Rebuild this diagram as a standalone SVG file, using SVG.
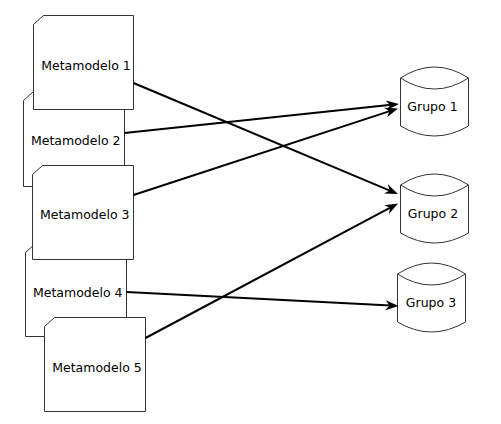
<svg xmlns="http://www.w3.org/2000/svg" width="501" height="424" viewBox="0 0 501 424">
<style>
.box{fill:#fff;stroke:#333;stroke-width:1}
.cyl{fill:#fff;stroke:#333;stroke-width:1}
.lbl{font-family:"DejaVu Sans",sans-serif;font-size:12.5px;fill:#000;text-anchor:middle}
.conn{stroke:#000;stroke-width:2;fill:none;marker-end:url(#arr)}
</style>
<defs>
<marker id="arr" markerUnits="userSpaceOnUse" markerWidth="14" markerHeight="12" viewBox="0 0 14 12" refX="10" refY="6" orient="auto">
<path d="M0,1 L13,6 L0,11 L4,6 Z" fill="#000"/>
</marker>
</defs>
<rect width="501" height="424" fill="#fff"/>
<g id="metamodelo2">
<path class="box" d="M33.5,91.5 H124.5 V186.5 H23.5 V100.5 Z"/>
<text class="lbl" x="75.7" y="145">Metamodelo 2</text>
</g>
<g id="metamodelo4">
<path class="box" d="M35.5,243.5 H126.5 V336.5 H25.5 V252.5 Z"/>
<text class="lbl" x="77.7" y="296.5">Metamodelo 4</text>
</g>
<g id="metamodelo1">
<path class="box" d="M43.5,15.5 H133.5 V109.5 H33.5 V24.5 Z"/>
<text class="lbl" x="86" y="69.5">Metamodelo 1</text>
</g>
<g id="metamodelo3">
<path class="box" d="M42.5,165.5 H133.5 V259.5 H32.5 V174.5 Z"/>
<text class="lbl" x="84.7" y="219">Metamodelo 3</text>
</g>
<g id="metamodelo5">
<path class="box" d="M54.5,317.5 H145.5 V411.5 H44.5 V326.5 Z"/>
<text class="lbl" x="97" y="372">Metamodelo 5</text>
</g>
<g id="grupo1">
<path class="cyl" d="M400.5,78 Q434.5,56 468.5,78 L468.5,126 Q434.5,146 400.5,126 Z"/>
<path class="cyl" fill="none" d="M400.5,78 Q434.5,100 468.5,78"/>
<text class="lbl" x="432.5" y="111">Grupo 1</text>
</g>
<g id="grupo2">
<path class="cyl" d="M400.5,185 Q434.5,163 468.5,185 L468.5,233 Q434.5,253 400.5,233 Z"/>
<path class="cyl" fill="none" d="M400.5,185 Q434.5,207 468.5,185"/>
<text class="lbl" x="433" y="218">Grupo 2</text>
</g>
<g id="grupo3">
<path class="cyl" d="M397.5,274 Q431.5,252 465.5,274 L465.5,322 Q431.5,342 397.5,322 Z"/>
<path class="cyl" fill="none" d="M397.5,274 Q431.5,296 465.5,274"/>
<text class="lbl" x="431" y="307">Grupo 3</text>
</g>
<g id="connectors">
<line class="conn" x1="133.5" y1="83" x2="395.2" y2="192.8"/>
<line class="conn" x1="124.5" y1="133" x2="396" y2="104.3"/>
<line class="conn" x1="133.5" y1="195" x2="395.1" y2="109.4"/>
<line class="conn" x1="126.5" y1="292" x2="395.5" y2="305.8"/>
<line class="conn" x1="145.5" y1="338" x2="395.4" y2="204.9"/>
</g>
</svg>
